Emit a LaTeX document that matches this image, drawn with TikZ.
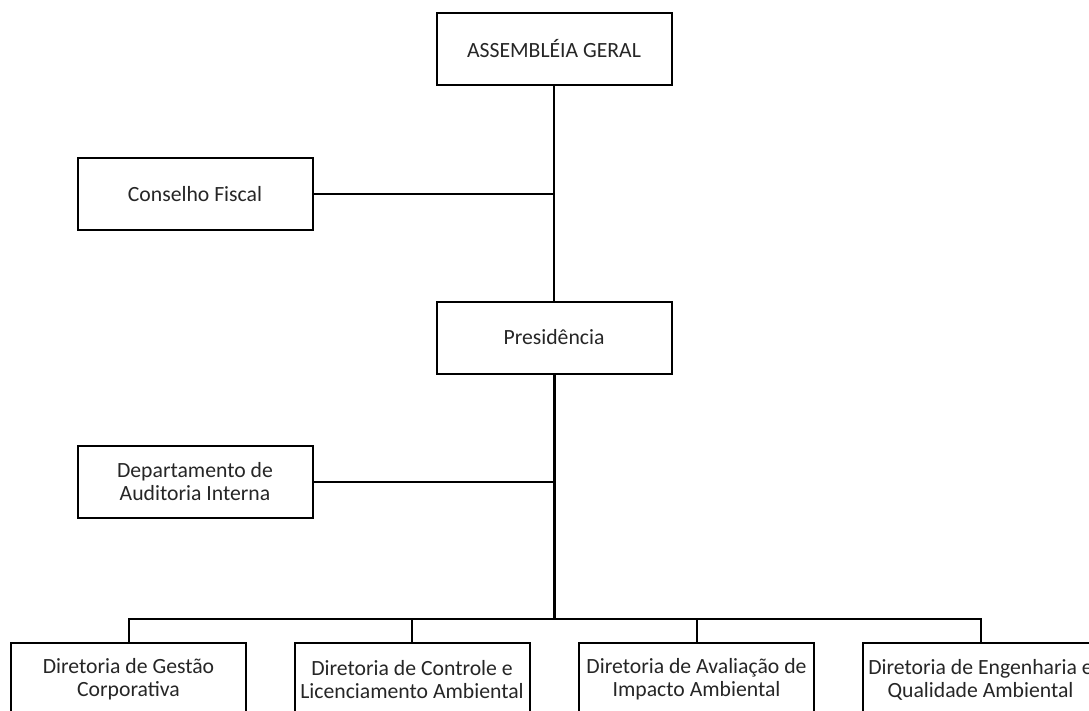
\documentclass[tikz,border=0pt]{standalone}
\usepackage{fontspec}
\setmainfont{Carlito}
\begin{document}
\begin{tikzpicture}[x=1pt, y=-1pt,
  orgbox/.style={draw=black, line width=2pt, fill=white, inner sep=0pt,
    minimum width=235pt, minimum height=72pt, align=center,
    text=black!85, font=\fontsize{21.7}{23}\selectfont},
  link/.style={draw=black, line width=2pt},
  trunk/.style={draw=black, line width=3pt}]
  \useasboundingbox (0,0) rectangle (1089,710);
  \clip (0,0) rectangle (1089,710);

  % upper levels
  \node[orgbox] (ag)   at (554,49)  {ASSEMBLÉIA GERAL};
  \node[orgbox] (cf)   at (195,194) {Conselho Fiscal};
  \node[orgbox] (pres) at (554,337.5) {Presidência};
  \node[orgbox] (aud)  at (195,482) {Departamento de\\Auditoria Interna};

  % directorates
  \node[orgbox, minimum height=73pt] (d1) at (128.5,679.5) {Diretoria de Gestão\\Corporativa};
  \node[orgbox, minimum height=73pt] (d2) at (412,679.5)   {Diretoria de Controle e\\Licenciamento Ambiental};
  \node[orgbox, minimum height=73pt] (d3) at (696.5,679.5) {Diretoria de Avaliação de\\Impacto Ambiental};
  \node[orgbox, minimum height=73pt] (d4) at (980.5,679.5) {Diretoria de Engenharia e\\Qualidade Ambiental};

  \coordinate (bus) at (554,619);

  % connectors
  \draw[trunk, line width=2.5pt] (ag.south) -- (pres.north);
  \draw[link] (cf.east) -- (cf.east -| ag.south);
  \draw[trunk] (pres.south) -- (bus);
  \draw[link] (aud.east) -- (aud.east -| pres.south);
  \draw[link] (d1.north) |- (bus) -| (d4.north);
  \draw[link] (d2.north) -- (d2.north |- bus);
  \draw[link] (d3.north) -- (d3.north |- bus);
\end{tikzpicture}
\end{document}
